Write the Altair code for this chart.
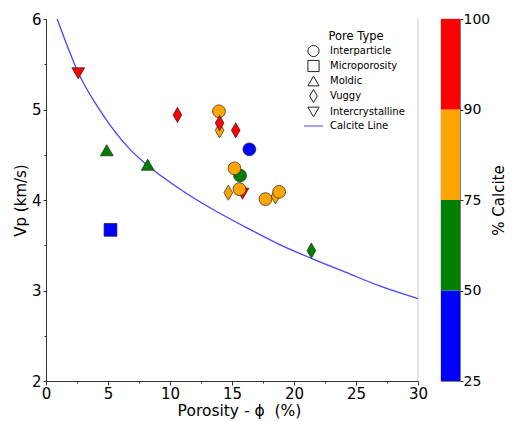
import altair as alt
import pandas as pd

# ---------------- data ----------------
pore_types = ["Interparticle", "Microporosity", "Moldic", "Vuggy", "Intercrystalline"]
line_label = "Calcite Line"

pt_pore = ["Intercrystalline", "Moldic", "Moldic", "Microporosity", "Vuggy",
           "Interparticle", "Vuggy", "Vuggy", "Vuggy", "Interparticle",
           "Interparticle", "Interparticle", "Vuggy", "Intercrystalline", "Interparticle",
           "Vuggy", "Interparticle", "Interparticle", "Vuggy"]
pt_phi = [2.6, 4.9, 8.2, 5.2, 10.6,
          13.95, 14.0, 14.0, 15.3, 16.4,
          15.65, 15.2, 14.7, 15.85, 15.6,
          18.5, 18.8, 17.7, 21.4]
pt_vp = [5.40, 4.55, 4.39, 3.67, 4.94,
         4.98, 4.77, 4.85, 4.77, 4.56,
         4.27, 4.35, 4.08, 4.07, 4.12,
         4.04, 4.09, 4.01, 3.44]
pt_calcite = [95, 60, 60, 40, 95,
              85, 85, 95, 95, 40,
              60, 85, 85, 95, 85,
              85, 85, 85, 60]

curve_phi = [0.9, 2.66, 4.5, 6.7, 8.2, 10.7, 13.4, 16.1, 18.8, 21.5, 24.2, 26.9, 30.0]
curve_vp = [6.0, 5.39, 4.96, 4.57, 4.38, 4.13, 3.90, 3.70, 3.51, 3.35, 3.20, 3.05, 2.91]

x_ticks = [0, 2.5, 5, 7.5, 10, 12.5, 15, 17.5, 20, 22.5, 25, 27.5, 30]
y_ticks = [2, 2.5, 3, 3.5, 4, 4.5, 5, 5.5, 6]
cbar_labels = ["25", "50", "75", "90", "100"]
cbar_bands = ["25-50", "50-75", "75-90", "90-100"]
calcite_colors = ["#0000ff", "#008000", "#ffa500", "#ff0000"]
cbar_thresholds = [50, 75, 90]

# ---------------- frames ----------------
pts = pd.DataFrame({"pore": pt_pore, "phi": pt_phi, "vp": pt_vp, "calcite": pt_calcite})
curve = pd.DataFrame({"phi": curve_phi, "vp": curve_vp})
cbar = pd.DataFrame({"band": cbar_bands,
                     "lo": list(range(len(cbar_bands))),
                     "hi": list(range(1, len(cbar_bands) + 1))})

FONT = "DejaVu Sans"
AX = "#333333"
LINE_BLUE = "#4545ff"

x_axis = alt.Axis(values=x_ticks, labelExpr="datum.value % 5 == 0 ? format(datum.value, 'd') : ''",
                  title="Porosity - ϕ\u00a0\u00a0(%)", titleX=193, titleAlign="center",
                  tickSize={"condition": {"test": "datum.value % 5 != 0", "value": 2}, "value": 4},
                  labelFontSize=15, titleFontSize=15.5, labelPadding=1, titlePadding=2,
                  domainColor=AX, tickColor=AX, labelColor="black", titleColor="black",
                  titleFontWeight="normal", grid=False, labelFlush=False)
y_axis = alt.Axis(values=y_ticks, labelExpr="datum.value % 1 == 0 ? format(datum.value, 'd') : ''",
                  title="Vp (km/s)",
                  tickSize={"condition": {"test": "datum.value % 1 != 0", "value": 2}, "value": 3},
                  labelFontSize=15, titleFontSize=15, labelPadding=2, titlePadding=3,
                  domainColor=AX, tickColor=AX, labelColor="black", titleColor="black",
                  titleFontWeight="normal", grid=False, labelFlush=False)

xs = alt.Scale(domain=[0, 30], nice=False, zero=False)
ys = alt.Scale(domain=[2, 6], nice=False, zero=False)

edge = alt.Chart(pts).mark_rule(color="#e4e4e4", strokeWidth=1).encode(
    x=alt.datum(30, scale=xs, axis=x_axis)
)

line = alt.Chart(curve).mark_line(color=LINE_BLUE, strokeWidth=1.3, interpolate="monotone").encode(
    x=alt.X("phi:Q", scale=xs, axis=x_axis),
    y=alt.Y("vp:Q", scale=ys, axis=y_axis),
)

diamond = "M0,-1.18L0.68,0L0,1.18L-0.68,0Z"
shape_range = ["circle", "square", "triangle-up", diamond, "triangle-down", "M-1.7,0H1.7"]
legend_domain = pore_types + [line_label]
stroke_range = ["#222222"] * len(pore_types) + [LINE_BLUE]

legend = alt.Legend(title="Pore Type", orient="none", legendX=261, legendY=12,
                    titleFontSize=11.5, titleFontWeight="normal", titleColor="black",
                    titleAnchor="middle", titlePadding=2,
                    labelFontSize=10, labelColor="black", labelOffset=10,
                    symbolSize=125, symbolFillColor="white",
                    symbolStrokeWidth=1, rowPadding=-2)

points = alt.Chart(pts).mark_point(filled=True, strokeWidth=0.7, opacity=1, size=165).encode(
    x=alt.X("phi:Q", scale=xs, axis=x_axis),
    y=alt.Y("vp:Q", scale=ys, axis=y_axis),
    fill=alt.Fill("calcite:Q", scale=alt.Scale(type="threshold", domain=cbar_thresholds, range=calcite_colors), legend=None),
    shape=alt.Shape("pore:N", scale=alt.Scale(domain=legend_domain, range=shape_range), legend=legend),
    stroke=alt.Stroke("pore:N", scale=alt.Scale(domain=legend_domain, range=stroke_range), legend=legend),
)

main = alt.layer(edge, line, points).properties(width=372, height=362, view=alt.ViewBackground(stroke="transparent"))

label_expr = "[" + ",".join("'%s'" % s for s in cbar_labels) + "][datum.value]"
colorbar = alt.Chart(cbar).mark_rect().encode(
    x=alt.datum(0, scale=alt.Scale(domain=[0, 1]), axis=None),
    x2=alt.datum(1),
    y=alt.Y("lo:Q", scale=alt.Scale(domain=[0, len(cbar_bands)], nice=False, zero=False),
            axis=alt.Axis(orient="right", values=list(range(len(cbar_labels))), labelExpr=label_expr,
                          title="% Calcite", titleAngle=270, titleFontSize=15, titleFontWeight="normal",
                          titleColor="black", labelFontSize=14, labelColor="black", tickSize=3,
                          tickColor=AX, domain=False, grid=False, labelPadding=0, titlePadding=17,
                          labelFlush=False)),
    y2="hi:Q",
    color=alt.Color("band:N", scale=alt.Scale(domain=cbar_bands, range=calcite_colors), legend=None),
).properties(width=19, height=362, view=alt.ViewBackground(stroke="#333333", strokeWidth=0.8))

chart = alt.hconcat(main, colorbar, spacing=11).properties(
    padding={"left": 12, "top": 11, "right": 2, "bottom": 3}
).configure(font=FONT).configure_view(stroke="transparent")

chart.save("out.html", embed_options={"renderer": "svg", "actions": False})
